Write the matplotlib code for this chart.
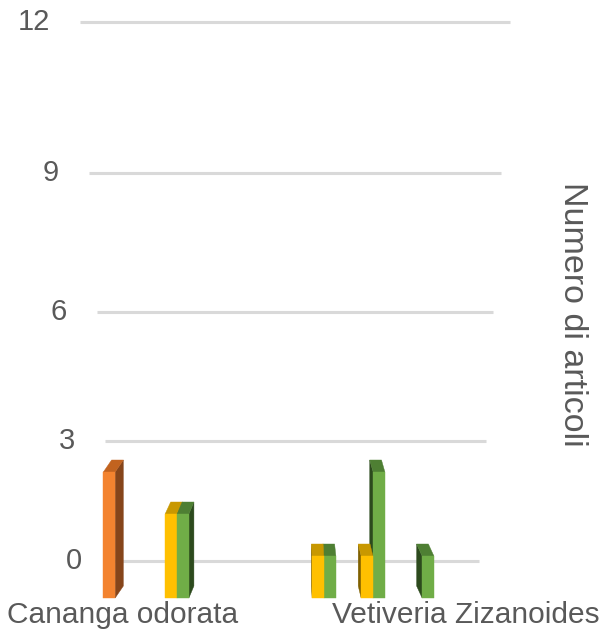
import matplotlib
matplotlib.use("Agg")
import matplotlib.pyplot as plt
from matplotlib.patches import Polygon
from matplotlib.transforms import IdentityTransform

# ---------------------------------------------------------------------------
# Data
# ---------------------------------------------------------------------------
categories = ["Cananga odorata", "", "", "", "", "", "", "Vetiveria Zizanoides"]
orange_vals = [3, 0, 0, 0, 0, 0, 0, 0]
yellow_vals = [0, 2, 0, 0, 1, 1, 0, 0]
green_vals = [0, 2, 0, 0, 1, 3, 1, 0]
y_ticks = [0, 3, 6, 9, 12]
y_title = "Numero di articoli"

# ---------------------------------------------------------------------------
# Style
# ---------------------------------------------------------------------------
W, H, DPI = 603, 631, 100
TEXT_COLOR = "#595959"
GRID_COLOR = "#D9D9D9"
FONT = ["Liberation Sans", "DejaVu Sans"]

# (front, top, side) shades for each series
SERIES = [
    (orange_vals, -0.26, ("#F3832F", "#C2631F", "#86451A")),
    (yellow_vals, 0.0, ("#FFC000", "#C89800", "#7F6000")),
    (green_vals, 0.245, ("#70AD47", "#4E7F33", "#2C4A1D")),
]
BAR_W = 0.24
VP_X = 300          # horizontal vanishing point (pixels)
DEPTH_K = 0.043     # how much the back edge leans toward the vanishing point
DEPTH_Y = 12        # depth of the bar top (pixels)
PERSP = 0.012       # wall perspective strength


def persp_fwd(v):
    return v / (1 - PERSP * v)


def persp_inv(g):
    return g / (1 + PERSP * g)


plt.rcParams["font.family"] = FONT
fig = plt.figure(figsize=(W / DPI, H / DPI), dpi=DPI)

# ---------------------------------------------------------------------------
# Back wall: gridlines with perspective
# ---------------------------------------------------------------------------
ax_wall = fig.add_axes([80 / W, (H - 561) / H, 430 / W, 539 / H])
ax_wall.set_yscale("function", functions=(persp_fwd, persp_inv))
ax_wall.set_ylim(0, 12)
ax_wall.set_xlim(0, 1)
ax_wall.axis("off")

g_top = persp_fwd(12)
for v in y_ticks:
    depth = 1 - persp_fwd(v) / g_top
    inset_l = depth * 32 / 430
    inset_r = depth * 31 / 430
    ax_wall.axhline(v, xmin=inset_l, xmax=1 - inset_r, color=GRID_COLOR,
                    linewidth=2.2, solid_capstyle="butt", zorder=1, clip_on=False)
    ax_wall.text(inset_l - 30 / 430, v, str(v), transform=ax_wall.get_yaxis_transform(),
                 ha="right", va="center", fontsize=21, color=TEXT_COLOR)

# ---------------------------------------------------------------------------
# Bars (front plane)
# ---------------------------------------------------------------------------
ax_bar = fig.add_axes([0, 0, 1, 1])
ax_bar.set_xlim(-122 / 49, (W - 122) / 49)
ax_bar.set_ylim(-33 / 42, (H - 33) / 42)
ax_bar.axis("off")
ax_bar.patch.set_visible(False)


def draw_bar(ax, x, h, colors):
    front_c, top_c, side_c = colors
    (x0, y0), (x1, y1) = ax.transData.transform([(x - BAR_W / 2, 0), (x + BAR_W / 2, h)])
    dx = (VP_X - (x0 + x1) / 2) * DEPTH_K
    dy = DEPTH_Y
    if dx >= 0:
        side = [(x1, y0), (x1 + dx, y0 + dy), (x1 + dx, y1 + dy), (x1, y1)]
    else:
        side = [(x0, y0), (x0 + dx, y0 + dy), (x0 + dx, y1 + dy), (x0, y1)]
    top = [(x0, y1), (x1, y1), (x1 + dx, y1 + dy), (x0 + dx, y1 + dy)]
    front = [(x0, y0), (x1, y0), (x1, y1), (x0, y1)]
    for pts, c in ((side, side_c), (top, top_c), (front, front_c)):
        ax.add_patch(Polygon(pts, closed=True, facecolor=c, edgecolor=c, linewidth=0.3,
                             transform=IdentityTransform(), clip_on=False))


bars = []
for vals, offset, colors in SERIES:
    for i, v in enumerate(vals):
        if v > 0:
            bars.append((i + offset, v, colors))

# draw outside-in so faces toward the centre are covered correctly
px_of = lambda b: ax_bar.transData.transform((b[0], 0))[0]
left = sorted([b for b in bars if px_of(b) < VP_X], key=px_of)
right = sorted([b for b in bars if px_of(b) >= VP_X], key=px_of, reverse=True)
for x, v, colors in left + right:
    draw_bar(ax_bar, x, v, colors)

# category labels
for i, name in enumerate(categories):
    if name:
        ax_bar.annotate(name, xy=(i, 0), xytext=(1, -25), textcoords="offset pixels",
                        ha="center", va="baseline", fontsize=21.5, color=TEXT_COLOR,
                        annotation_clip=False)

fig.text(572 / W, 1 - 314 / H, y_title, rotation=270, ha="center", va="center",
         fontsize=24.5, color=TEXT_COLOR)

fig.savefig("out.png", dpi=DPI)
